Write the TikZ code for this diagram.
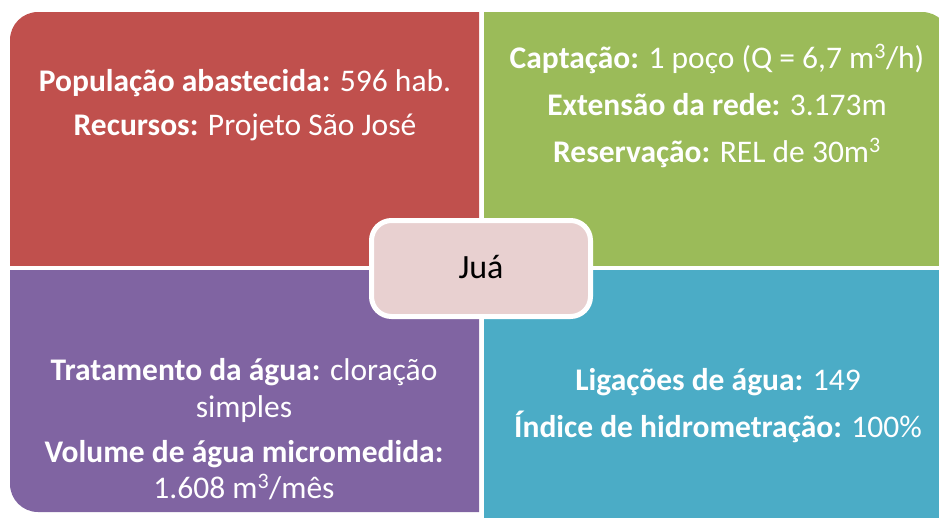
\documentclass[tikz,border=0pt]{standalone}
\usepackage{fontspec}
\setmainfont{Carlito}
\definecolor{qred}{HTML}{C0504D}
\definecolor{qgreen}{HTML}{9BBB59}
\definecolor{qpurple}{HTML}{8064A2}
\definecolor{qblue}{HTML}{4BACC6}
\definecolor{qpink}{HTML}{E8D0D0}
\tikzset{
  txt/.style={anchor=base, text=white, font=\fontsize{31.5}{36}\selectfont, inner sep=0pt},
  hub/.style={draw=white, line width=5pt, fill=qpink, rounded corners=20pt, minimum width=219pt, minimum height=96pt, inner sep=0pt},
  hubtxt/.style={anchor=base, font=\fontsize{34}{40}\selectfont, text=black, inner sep=0pt}
}
\begin{document}
\begin{tikzpicture}[x=1pt,y=-1pt]
\useasboundingbox (0,0) rectangle (939,517);
% quadrants
\begin{scope}
  \clip (10,12) rectangle (479,265);
  \fill[qred, rounded corners=28pt] (10,12) rectangle (560,340);
\end{scope}
\begin{scope}
  \clip (484,12) rectangle (950,265);
  \fill[qgreen, rounded corners=28pt] (400,12) rectangle (950,340);
\end{scope}
\begin{scope}
  \clip (10,270) rectangle (479,512);
  \fill[qpurple, rounded corners=28pt] (10,190) rectangle (560,512);
\end{scope}
\begin{scope}
  \clip (484,270) rectangle (950,525);
  \fill[qblue, rounded corners=28pt] (400,190) rectangle (950,525);
\end{scope}
% red texts
\node[txt] (r1) at (245,91) {\textbf{População abastecida:} 596 hab.};
\node[txt] (r2) at (245,135) {\textbf{Recursos:} Projeto São José};
% green texts
\node[txt] (g1) at (717,68) {\textbf{Captação:} 1 poço (Q = 6,7 m\textsuperscript{3}/h)};
\node[txt] (g2) at (717,115) {\textbf{Extensão da rede:} 3.173m};
\node[txt] (g3) at (717,162) {\textbf{Reservação:} REL de 30m\textsuperscript{3}};
% purple texts
\node[txt] (p1) at (244,380) {\textbf{Tratamento da água:} cloração};
\node[txt] (p2) at (244,417) {simples};
\node[txt] (p3) at (244,462) {\textbf{Volume de água micromedida:}};
\node[txt] (p4) at (244,498) {1.608 m\textsuperscript{3}/mês};
% blue texts
\node[txt] (b1) at (718,390) {\textbf{Ligações de água:} 149};
\node[txt] (b2) at (718,437) {\textbf{Índice de hidrometração:} 100\%};
% hub
\node[hub] (hub) at (481,268.5) {};
\node[hubtxt] (jua) at (481,278) {Juá};
\end{tikzpicture}
\end{document}
